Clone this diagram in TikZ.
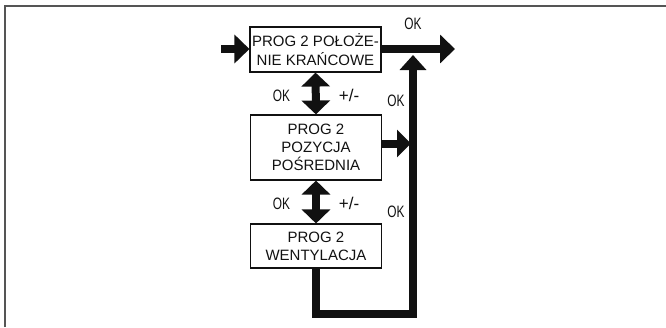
\documentclass[tikz,border=0pt]{standalone}
\usepackage{fontspec}
\setmainfont{Liberation Sans}
\newfontfamily\narrowfont{Liberation Sans}[FakeStretch=0.72]
\usetikzlibrary{arrows.meta}
\definecolor{ink}{HTML}{111111}
\definecolor{frame}{HTML}{555555}
\begin{document}
\begin{tikzpicture}[x=1pt,y=-1pt,
  boxstyle/.style={draw=ink,line width=1.1pt,minimum width=131pt,inner sep=0pt,align=center,
     font=\fontsize{15}{18.3}\selectfont,text=ink},
  fat/.style={line width=8pt,draw=ink,line join=miter},
  fathead/.style={-{Triangle[length=15pt,width=28pt]}},
  fatdouble/.style={{Triangle[length=14pt,width=28pt]}-{Triangle[length=14pt,width=28pt]}},
  lbl/.style={font=\narrowfont\fontsize{16.5}{18}\selectfont,text=ink,inner sep=0pt},
  pmlbl/.style={font=\fontsize{17}{18}\selectfont,text=ink,inner sep=0pt}]
\useasboundingbox (0,0) rectangle (666,327);
\draw[frame,line width=1.8pt] (4.8,327) -- (4.8,5.6) -- (666,5.6);

\node[boxstyle,minimum height=45pt] (b1) at (315.5,49.5) {PROG 2 POŁOŻE-\\NIE KRAŃCOWE};
\node[boxstyle,minimum height=65pt] (b2) at (316,147.5) {PROG 2\\POZYCJA\\POŚREDNIA};
\node[boxstyle,minimum height=44pt] (b3) at (316,246) {PROG 2\\WENTYLACJA};

\coordinate (in) at (221,49);
\coordinate (out) at (455,49);
\coordinate (mid) at (411,143.5);
\coordinate (down) at (316,314);
\coordinate (corner) at (413,314);
\coordinate (up) at (413,55);

\draw[fat,fathead] (in) -- (b1.west |- in);
\draw[fat,fathead] (b1.east |- out) -- (out);
\draw[fat,fatdouble] (b1.south) -- (b2.north);
\draw[fat,fatdouble] (b2.south) -- (b3.north);
\draw[fat,-{Triangle[length=14pt,width=27pt]}] (b2.east |- mid) -- (mid);
\draw[fat,line width=7.5pt,-{Triangle[length=15pt,width=26pt]}] (b3.south) -- (down) -- (corner) -- (up);

\node[lbl] (ok0) at (413,24) {OK};
\node[lbl] (ok1) at (281.5,95.5) {OK};
\node[pmlbl] (pm1) at (349,95.5) {+/-};
\node[lbl] (ok2) at (396,101) {OK};
\node[lbl] (ok3) at (281.5,203.5) {OK};
\node[pmlbl] (pm2) at (349,203.5) {+/-};
\node[lbl] (ok4) at (396,211.5) {OK};
\end{tikzpicture}
\end{document}
